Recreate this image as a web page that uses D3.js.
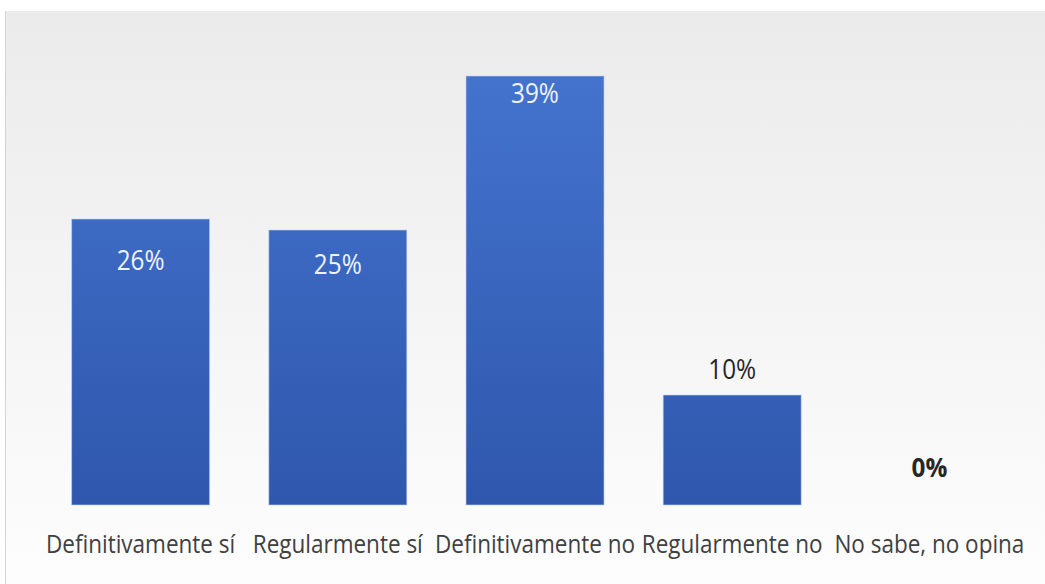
<!DOCTYPE html>
<html>
<head>
<meta charset="utf-8">
<script src="https://cdn.jsdelivr.net/npm/d3@7"></script>
<style>
  html, body { margin: 0; padding: 0; background: #fff; }
  svg { display: block; }
</style>
</head>
<body>
<svg></svg>
<script>
let width = 1045;
let height = 584;

let categories = ['Definitivamente sí', 'Regularmente sí', 'Definitivamente no', 'Regularmente no', 'No sabe, no opina'];
let values = [26, 25, 39, 10, 0];
let valueLabels = ['26%', '25%', '39%', '10%', '0%'];
// where each data label sits: inside the bar or above it
let labelInside = [true, true, true, false, false];
let labelDy = [51, 44, 27, -16, -28];

let data = categories.map((c, i) => ({ cat: c, value: values[i], label: valueLabels[i], inside: labelInside[i], dy: labelDy[i] }));

let svg = d3.select('svg')
            .attr('width', width)
            .attr('height', height);

let defs = svg.append('defs');

let bg = defs.append('linearGradient')
  .attr('id', 'bg')
  .attr('x1', 0).attr('y1', 0).attr('x2', 0).attr('y2', 1);
bg.append('stop').attr('offset', '0%').attr('stop-color', '#ebebeb');
bg.append('stop').attr('offset', '100%').attr('stop-color', '#fdfdfd');

let barGrad = defs.append('linearGradient')
  .attr('id', 'barGrad')
  .attr('gradientUnits', 'userSpaceOnUse')
  .attr('x1', 0).attr('y1', 60).attr('x2', 0).attr('y2', 505);
barGrad.append('stop').attr('offset', '0%').attr('stop-color', '#4474cf');
barGrad.append('stop').attr('offset', '100%').attr('stop-color', '#2f57ad');

svg.append('rect')
  .attr('x', 5)
  .attr('y', 11)
  .attr('width', width - 5)
  .attr('height', height - 11)
  .attr('fill', 'url(#bg)');

svg.append('line')
  .attr('x1', 5.5).attr('x2', 5.5)
  .attr('y1', 11).attr('y2', height)
  .attr('stroke', '#d4d4d4');

let xScale = d3.scaleBand()
                .domain(categories)
                .range([42, 1028])
                .paddingInner(0.3)
                .paddingOuter(0.15);

let yScale = d3.scaleLinear()
                .domain([0, 40])
                .range([505, 65]);

svg.selectAll('.bar')
  .data(data)
  .enter()
  .append('rect')
    .attr('class', 'bar')
    .attr('x', d => xScale(d.cat))
    .attr('y', d => yScale(d.value))
    .attr('width', xScale.bandwidth())
    .attr('height', d => yScale(0) - yScale(d.value))
    .attr('fill', 'url(#barGrad)')
    .attr('stroke', '#c9d7f2')
    .attr('stroke-opacity', 0.6)
    .attr('stroke-width', d => d.value > 0 ? 1 : 0);

svg.selectAll('.value')
  .data(data)
  .enter()
  .append('text')
    .attr('class', 'value')
    .attr('transform', d => `translate(${xScale(d.cat) + xScale.bandwidth() / 2}, ${yScale(d.value) + d.dy}) scale(0.9, 1)`)
    .attr('text-anchor', 'middle')
    .style('font-family', 'Open Sans, sans-serif')
    .style('font-size', '27px')
    .style('font-weight', d => d.value === 0 ? 700 : 400)
    .attr('fill', d => d.inside ? '#eef3ff' : '#262626')
    .text(d => d.label);

let xAxis = svg.append('g')
  .attr('transform', `translate(0, ${yScale(0)})`)
  .call(d3.axisBottom(xScale).tickSize(0).tickPadding(0));

xAxis.select('.domain').remove();

xAxis.selectAll('text')
  .attr('y', 0)
  .attr('dy', 0)
  .attr('transform', 'translate(0, 48) scale(0.9, 1)')
  .style('font-family', 'Open Sans, sans-serif')
  .style('font-size', '25px')
  .attr('fill', '#404040');
</script>
</body>
</html>
